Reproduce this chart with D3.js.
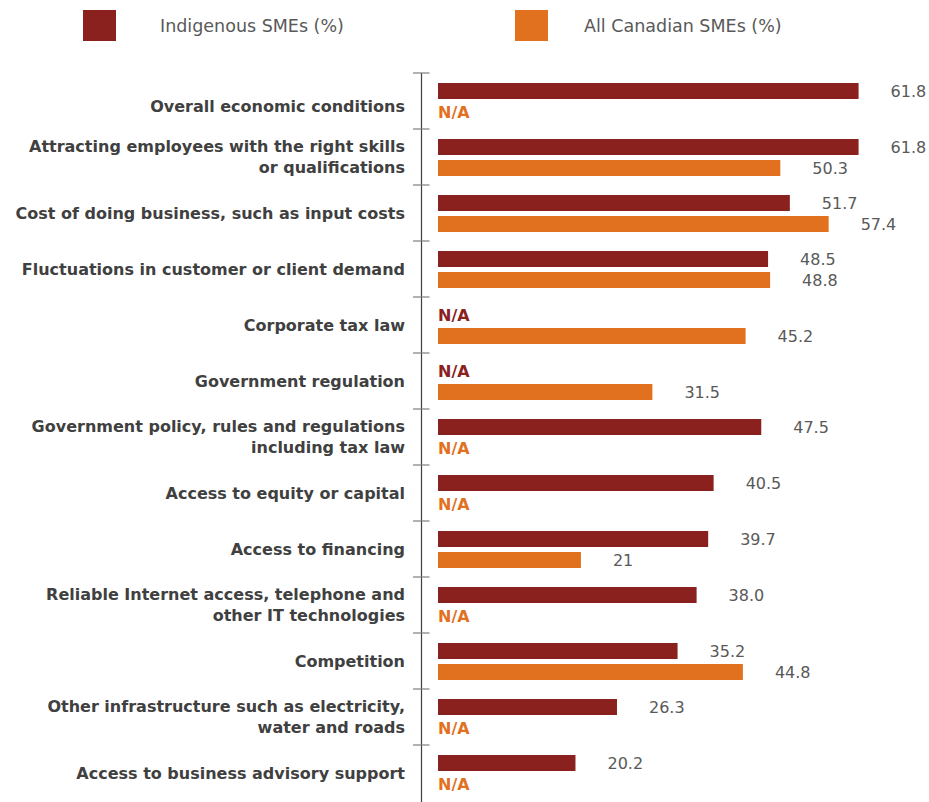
<!DOCTYPE html>
<html>
<head>
<meta charset="utf-8">
<script src="https://cdn.jsdelivr.net/npm/d3@7"></script>
<style>
  html, body { margin: 0; padding: 0; background: #ffffff; }
  svg { display: block; }
</style>
</head>
<body>
<svg id="chart" width="929" height="802"></svg>
<script>
// Barriers to growth: share of businesses citing each factor
const categories = [
  ["Overall economic conditions"],
  ["Attracting employees with the right skills", "or qualifications"],
  ["Cost of doing business, such as input costs"],
  ["Fluctuations in customer or client demand"],
  ["Corporate tax law"],
  ["Government regulation"],
  ["Government policy, rules and regulations", "including tax law"],
  ["Access to equity or capital"],
  ["Access to financing"],
  ["Reliable Internet access, telephone and", "other IT technologies"],
  ["Competition"],
  ["Other infrastructure such as electricity,", "water and roads"],
  ["Access to business advisory support"]
];
// null = not available (N/A)
const indigenous = ["61.8", "61.8", "51.7", "48.5", null, null, "47.5", "40.5", "39.7", "38.0", "35.2", "26.3", "20.2"];
const canadian   = [null, "50.3", "57.4", "48.8", "45.2", "31.5", null, null, "21", null, "44.8", null, null];
const seriesNames = ["Indigenous SMEs (%)", "All Canadian SMEs (%)"];
const colors = ["#8B211E", "#E2711F"];

const FONT = "'DejaVu Sans', sans-serif";
const svg = d3.select("#chart");

const x = d3.scaleLinear().domain([0, 72]).range([438, 928]);
const y = d3.scaleBand().domain(d3.range(categories.length)).range([73, 801]).padding(0);
const barH = 16;
const offsets = [10, 31];

// Legend
const legendX = [83, 515];
const legendTextDx = [77, 69];
seriesNames.forEach((name, i) => {
  const g = svg.append("g").attr("transform", `translate(${legendX[i]},10)`);
  g.append("rect").attr("width", 33).attr("height", 31).attr("fill", colors[i]);
  g.append("text")
    .attr("x", legendTextDx[i]).attr("y", 16).attr("dy", "0.35em")
    .attr("font-family", FONT).attr("font-size", 17.5)
    .attr("fill", "#595959").text(name);
});

// Category axis
const axisX = 421.5;
svg.append("line")
  .attr("x1", axisX).attr("x2", axisX)
  .attr("y1", y.range()[0]).attr("y2", 802)
  .attr("stroke", "#404040").attr("stroke-width", 1.2);
svg.selectAll("line.tick")
  .data(d3.range(categories.length))
  .join("line")
  .attr("class", "tick")
  .attr("x1", axisX - 8.5).attr("x2", axisX + 8)
  .attr("y1", d => y(d)).attr("y2", d => y(d))
  .attr("stroke", "#7f7f7f").attr("stroke-width", 1.2);

// Category labels
const lineH = 21;
svg.selectAll("text.cat")
  .data(categories)
  .join("text")
  .attr("class", "cat")
  .attr("text-anchor", "end")
  .attr("font-family", FONT).attr("font-size", 16).attr("font-weight", "bold")
  .attr("fill", "#404040")
  .each(function (lines, i) {
    const cy = y(i) + y.bandwidth() / 2 + (i === 0 ? 5 : 0);
    const t = d3.select(this);
    lines.forEach((ln, j) => {
      t.append("tspan")
        .attr("x", 405)
        .attr("y", cy + (j - (lines.length - 1) / 2) * lineH)
        .attr("dy", "0.35em")
        .text(ln);
    });
  });

// Bars and labels for each series
[indigenous, canadian].forEach((vals, s) => {
  const g = svg.append("g");
  const rows = vals.map((v, i) => ({ i, v }));
  g.selectAll("rect")
    .data(rows.filter(d => d.v !== null))
    .join("rect")
    .attr("x", x(0))
    .attr("y", d => y(d.i) + offsets[s])
    .attr("width", d => x(+d.v) - x(0))
    .attr("height", barH)
    .attr("fill", colors[s]);
  g.selectAll("text.val")
    .data(rows.filter(d => d.v !== null))
    .join("text")
    .attr("class", "val")
    .attr("x", d => x(+d.v) + 32)
    .attr("y", d => y(d.i) + offsets[s] + barH / 2)
    .attr("dy", "0.35em")
    .attr("font-family", FONT).attr("font-size", 16)
    .attr("fill", "#595959")
    .text(d => d.v);
  g.selectAll("text.na")
    .data(rows.filter(d => d.v === null))
    .join("text")
    .attr("class", "na")
    .attr("x", x(0))
    .attr("y", d => y(d.i) + offsets[s] + barH / 2)
    .attr("dy", "0.35em")
    .attr("font-family", FONT).attr("font-size", 16).attr("font-weight", "bold")
    .attr("fill", colors[s])
    .text("N/A");
});
</script>
</body>
</html>
